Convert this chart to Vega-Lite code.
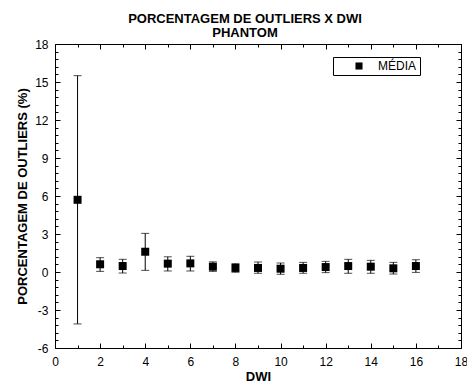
{
  "$schema": "https://vega.github.io/schema/vega-lite/v6.json",
  "width": 406,
  "height": 304,
  "autosize": {"type": "none"},
  "padding": {"left": 55, "top": 44, "right": 6, "bottom": 40},
  "background": "white",
  "config": {
    "font": "Liberation Sans",
    "view": {"stroke": null},
    "axis": {"grid": false, "domainColor": "black", "tickColor": "black", "labelColor": "black", "titleColor": "black", "labelFont": "Liberation Sans", "titleFont": "Liberation Sans", "labelFontSize": 12, "titleFontSize": 13, "titleFontWeight": "bold"}
  },
  "title": {"text": ["PORCENTAGEM DE OUTLIERS X DWI", "PHANTOM"], "fontSize": 13, "fontWeight": "bold", "font": "Liberation Sans", "color": "black", "anchor": "middle", "offset": -2, "lineHeight": 14, "dx": -13},
  "data": {"values": [
    {"dwi": 1, "media": 5.7, "lo": -4.1, "hi": 15.5},
    {"dwi": 2, "media": 0.61, "lo": 0.05, "hi": 1.13},
    {"dwi": 3, "media": 0.47, "lo": -0.08, "hi": 1.0},
    {"dwi": 4, "media": 1.6, "lo": 0.13, "hi": 3.05},
    {"dwi": 5, "media": 0.66, "lo": 0.08, "hi": 1.2},
    {"dwi": 6, "media": 0.68, "lo": 0.08, "hi": 1.24},
    {"dwi": 7, "media": 0.42, "lo": 0.05, "hi": 0.8},
    {"dwi": 8, "media": 0.32, "lo": -0.02, "hi": 0.66},
    {"dwi": 9, "media": 0.32, "lo": -0.1, "hi": 0.79},
    {"dwi": 10, "media": 0.26, "lo": -0.18, "hi": 0.71},
    {"dwi": 11, "media": 0.32, "lo": -0.1, "hi": 0.76},
    {"dwi": 12, "media": 0.39, "lo": -0.05, "hi": 0.84},
    {"dwi": 13, "media": 0.47, "lo": -0.1, "hi": 1.0},
    {"dwi": 14, "media": 0.42, "lo": -0.1, "hi": 0.92},
    {"dwi": 15, "media": 0.29, "lo": -0.16, "hi": 0.76},
    {"dwi": 16, "media": 0.47, "lo": -0.03, "hi": 0.97}
  ]},
  "resolve": {"axis": {"x": "independent", "y": "independent"}},
  "layer": [
    {
      "mark": {"type": "errorbar", "ticks": {"size": 8, "color": "black"}, "color": "black", "thickness": 1},
      "encoding": {
        "x": {"field": "dwi", "type": "quantitative", "scale": {"domain": [0, 18], "nice": false, "zero": false},
              "axis": {"orient": "bottom", "values": [0,2,4,6,8,10,12,14,16,18], "tickSize": -5, "labelPadding": 13, "title": "DWI", "titlePadding": 3, "labelFlush": false, "labelExpr": "datum.value + ''"}},
        "y": {"field": "lo", "type": "quantitative", "scale": {"domain": [-6, 18], "nice": false, "zero": false},
              "axis": {"orient": "left", "values": [-6,-3,0,3,6,9,12,15,18], "tickSize": -5, "labelPadding": 12, "title": "PORCENTAGEM DE OUTLIERS (%)", "titlePadding": 5, "labelFlush": false, "labelExpr": "datum.value + ''"}},
        "y2": {"field": "hi"}
      }
    },
    {
      "mark": {"type": "point", "shape": "square", "filled": true, "size": 64, "opacity": 1},
      "encoding": {
        "x": {"field": "dwi", "type": "quantitative",
              "axis": {"orient": "top", "values": [0,2,4,6,8,10,12,14,16,18], "tickSize": -5, "labels": false, "title": null}},
        "y": {"field": "media", "type": "quantitative",
              "axis": {"orient": "right", "values": [-6,-3,0,3,6,9,12,15,18], "tickSize": -5, "labels": false, "title": null}},
        "color": {"datum": "MÉDIA", "type": "nominal", "scale": {"range": ["black"]},
                  "legend": {"title": null, "orient": "none", "legendX": 278, "legendY": 13, "strokeColor": "black", "fillColor": "white", "padding": 3, "symbolType": "square", "symbolSize": 50, "labelFontSize": 12, "labelFont": "Liberation Sans", "labelColor": "black", "symbolOffset": 17, "labelOffset": 13, "symbolStrokeWidth": 0}}
      }
    },
    {
      "mark": {"type": "point", "opacity": 0},
      "encoding": {
        "x": {"field": "dwi", "type": "quantitative",
              "axis": {"orient": "bottom", "values": [1,3,5,7,9,11,13,15,17], "tickSize": -3, "labels": false, "domain": false, "title": null}},
        "y": {"field": "media", "type": "quantitative",
              "axis": {"orient": "left", "values": [-5.4,-4.8,-4.2,-3.6,-2.4,-1.8,-1.2,-0.6,0.6,1.2,1.8,2.4,3.6,4.2,4.8,5.4,6.6,7.2,7.8,8.4,9.6,10.2,10.8,11.4,12.6,13.2,13.8,14.4,15.6,16.2,16.8,17.4], "tickSize": -3, "labels": false, "domain": false, "title": null}}
      }
    },
    {
      "mark": {"type": "point", "opacity": 0},
      "encoding": {
        "x": {"field": "dwi", "type": "quantitative",
              "axis": {"orient": "top", "values": [1,3,5,7,9,11,13,15,17], "tickSize": -3, "labels": false, "domain": false, "title": null}},
        "y": {"field": "media", "type": "quantitative",
              "axis": {"orient": "right", "values": [-5.4,-4.8,-4.2,-3.6,-2.4,-1.8,-1.2,-0.6,0.6,1.2,1.8,2.4,3.6,4.2,4.8,5.4,6.6,7.2,7.8,8.4,9.6,10.2,10.8,11.4,12.6,13.2,13.8,14.4,15.6,16.2,16.8,17.4], "tickSize": -3, "labels": false, "domain": false, "title": null}}
      }
    }
  ]
}
